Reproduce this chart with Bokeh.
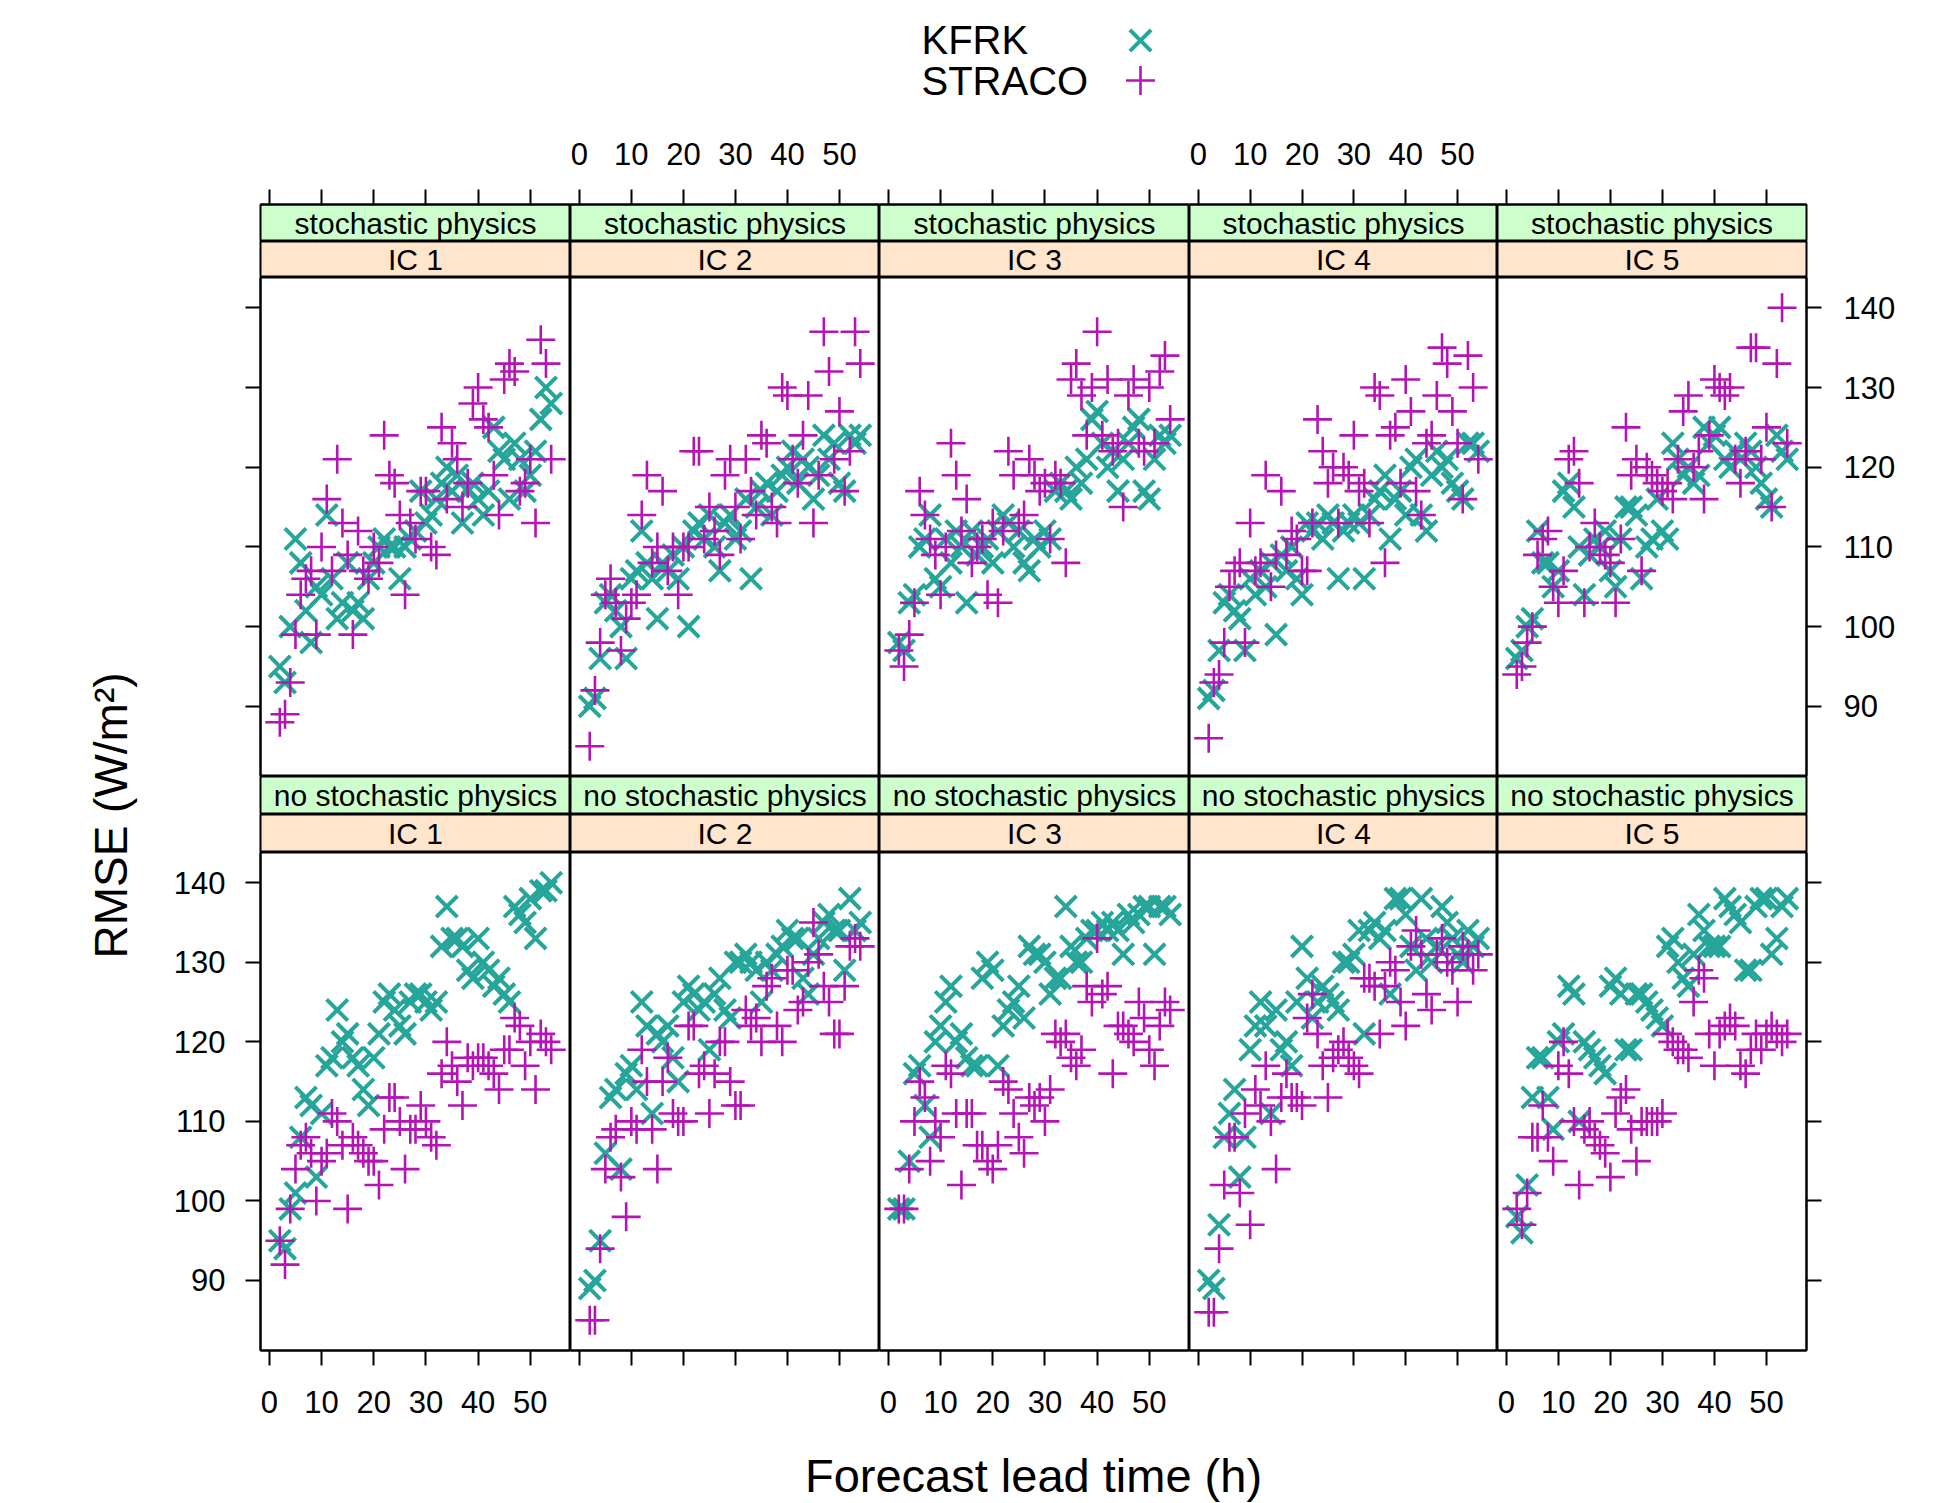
from bokeh.plotting import figure
from bokeh.layouts import column, row
from bokeh.models import LinearAxis, FixedTicker, Range1d
from bokeh.embed import file_html
from bokeh.resources import INLINE
from bokeh.core.properties import value
import math

# ---------------- data ----------------
HOURS = list(range(2, 55))
X_TICKS = [0, 10, 20, 30, 40, 50]
Y_TICKS = [90, 100, 110, 120, 130, 140]
IC_LABELS = ["IC 1", "IC 2", "IC 3", "IC 4", "IC 5"]
PHYS_LABELS = ["stochastic physics", "no stochastic physics"]
SERIES = ["KFRK", "STRACO"]

# stochastic physics
kfrk_sp_ic1 = [95, 93, 100, 111, 108, 102, 98, 105, 104, 114, 106, 101, 103, 108, 102, 103, 101, 106, 108, 110,
               111, 110, 110, 106, 110, 111, 112, 117, 113, 114, 116, 118, 120, 117, 119, 113, 117, 118, 116, 114,
               117, 125, 122, 121, 116, 123, 121, 117, 119, 122, 126, 130, 128]
straco_sp_ic1 = [88, 89, 93, 99, 104, 106, 107, 99, 110, 116, 107, 121, 113, 109, 99, 112, 107, 106, 110, 108,
                 124, 119, 118, 114, 104, 113, 111, 117, 117, 110, 109, 125, 116, 123, 121, 115, 118, 128, 130, 126,
                 125, 119, 114, 131, 133, 132, 117, 118, 121, 113, 136, 133, 121]
kfrk_sp_ic2 = [90, 91, 96, 103, 104, 102, 100, 96, 106, 107, 112, 108, 106, 101, 108, 107, 109, 106, 110, 100,
               112, 113, 111, 114, 110, 107, 113, 114, 111, 112, 116, 106, 115, 117, 118, 114, 117, 119, 120, 122,
               118, 121, 120, 116, 119, 124, 121, 123, 118, 117, 124, 123, 124]
straco_sp_ic2 = [85, 92, 98, 104, 106, 103, 97, 101, 103, 104, 114, 119, 108, 110, 117, 107, 110, 104, 110, 110,
                 122, 122, 111, 115, 112, 109, 119, 121, 115, 111, 121, 117, 114, 124, 123, 115, 113, 130, 129, 121,
                 118, 124, 129, 113, 119, 137, 132, 121, 127, 117, 122, 137, 133]
kfrk_sp_ic3 = [98, 97, 103, 104, 110, 111, 114, 106, 105, 111, 108, 112, 110, 103, 112, 109, 110, 111, 108, 112,
               114, 113, 110, 112, 108, 107, 111, 110, 112, 111, 117, 118, 117, 116, 120, 118, 121, 126, 127, 123,
               120, 122, 117, 121, 123, 125, 126, 117, 116, 121, 124, 123, 124]
straco_sp_ic3 = [97, 95, 99, 103, 117, 114, 111, 109, 104, 110, 123, 119, 112, 116, 108, 110, 111, 104, 113, 103,
                 112, 122, 119, 113, 114, 121, 119, 117, 118, 111, 119, 118, 108, 131, 133, 129, 124, 130, 137, 124,
                 131, 122, 123, 115, 129, 131, 123, 122, 130, 123, 132, 134, 126]
kfrk_sp_ic4 = [91, 92, 97, 103, 104, 102, 101, 97, 106, 104, 107, 105, 108, 99, 109, 107, 110, 106, 104, 113,
               112, 113, 111, 114, 113, 106, 112, 113, 114, 113, 106, 114, 116, 117, 119, 111, 116, 117, 114, 120,
               121, 114, 112, 119, 122, 120, 121, 118, 117, 116, 123, 123, 122]
straco_sp_ic4 = [86, 93, 94, 98, 105, 107, 108, 98, 113, 107, 108, 119, 105, 109, 117, 109, 112, 111, 107, 107,
                 113, 126, 122, 118, 120, 113, 120, 119, 124, 117, 118, 113, 130, 129, 108, 124, 125, 118, 131, 127,
                 117, 114, 123, 124, 129, 135, 133, 127, 123, 116, 134, 130, 121]
kfrk_sp_ic5 = [96, 97, 100, 101, 112, 108, 108, 105, 107, 117, 118, 115, 110, 104, 109, 111, 110, 112, 107, 105,
               111, 115, 115, 114, 106, 110, 111, 116, 112, 111, 123, 121, 119, 120, 118, 119, 125, 123, 124, 125,
               121, 120, 122, 121, 123, 122, 120, 118, 116, 115, 124, 122, 121]
straco_sp_ic5 = [94, 95, 98, 100, 109, 111, 112, 105, 103, 107, 121, 122, 118, 103, 110, 113, 110, 109, 108, 103,
                 111, 125, 119, 121, 107, 120, 119, 118, 117, 118, 116, 121, 127, 129, 120, 122, 116, 124, 131, 130,
                 129, 130, 121, 118, 122, 135, 135, 121, 125, 115, 133, 140, 123]

# no stochastic physics
kfrk_nsp_ic1 = [95, 94, 99, 101, 108, 113, 112, 103, 111, 117, 118, 124, 120, 121, 118, 117, 114, 112, 118, 121,
                125, 126, 124, 122, 121, 125, 126, 126, 125, 124, 125, 132, 137, 133, 133, 132, 129, 128, 133, 130,
                129, 127, 128, 126, 125, 137, 136, 135, 138, 133, 139, 139, 140]
straco_nsp_ic1 = [95, 92, 99, 104, 107, 108, 106, 100, 105, 106, 111, 110, 107, 99, 108, 107, 106, 105, 105, 102,
                  109, 113, 113, 110, 104, 109, 109, 112, 110, 108, 107, 116, 120, 117, 115, 112, 118, 117, 118, 118,
                  117, 116, 114, 119, 119, 123, 122, 117, 120, 114, 121, 120, 119]
kfrk_nsp_ic2 = [89, 90, 95, 106, 113, 114, 104, 116, 117, 114, 125, 122, 111, 121, 120, 122, 118, 115, 125, 127,
                126, 124, 125, 119, 126, 128, 124, 123, 130, 130, 131, 130, 129, 125, 130, 129, 131, 132, 134, 133,
                133, 128, 126, 131, 133, 135, 136, 134, 134, 129, 138, 134, 135]
straco_nsp_ic2 = [85, 85, 94, 104, 108, 109, 103, 98, 110, 109, 119, 115, 109, 104, 115, 118, 111, 110, 110, 122,
                  122, 116, 117, 111, 116, 120, 120, 115, 112, 112, 124, 122, 123, 120, 127, 128, 122, 120, 129, 129,
                  124, 125, 130, 135, 131, 127, 125, 121, 121, 127, 132, 133, 132]
kfrk_nsp_ic3 = [99, 99, 105, 116, 117, 112, 108, 120, 122, 125, 127, 120, 121, 118, 117, 117, 128, 130, 129, 117,
                122, 124, 125, 127, 123, 132, 131, 131, 130, 126, 128, 128, 137, 132, 130, 130, 133, 134, 134, 135,
                134, 135, 134, 131, 136, 135, 136, 137, 137, 131, 137, 137, 136]
straco_nsp_ic3 = [99, 99, 104, 110, 115, 113, 105, 110, 108, 117, 116, 111, 102, 111, 111, 107, 107, 105, 104, 107,
                  115, 114, 111, 108, 106, 113, 112, 113, 110, 114, 121, 120, 121, 118, 117, 119, 127, 125, 133, 126,
                  127, 116, 122, 122, 121, 120, 125, 123, 119, 117, 122, 125, 124]
kfrk_nsp_ic4 = [90, 89, 97, 108, 111, 114, 103, 108, 119, 122, 125, 122, 111, 124, 119, 120, 117, 125, 132, 128,
                123, 125, 127, 126, 125, 124, 130, 130, 131, 134, 121, 134, 135, 133, 134, 126, 138, 138, 136, 132,
                129, 138, 133, 130, 132, 137, 135, 133, 131, 130, 134, 132, 133]
straco_nsp_ic4 = [86, 86, 94, 102, 108, 108, 101, 111, 97, 114, 112, 117, 110, 104, 113, 116, 113, 113, 112, 123,
                  126, 121, 117, 113, 118, 119, 120, 118, 117, 116, 128, 128, 127, 121, 127, 130, 129, 125, 122, 132,
                  134, 131, 126, 124, 131, 133, 130, 129, 125, 132, 131, 129, 131]
kfrk_nsp_ic5 = [98, 96, 102, 113, 118, 118, 113, 109, 120, 121, 127, 126, 110, 120, 119, 118, 117, 116, 127, 128,
                126, 119, 119, 126, 126, 125, 124, 123, 122, 132, 133, 130, 128, 127, 131, 136, 134, 132, 132, 132,
                138, 137, 136, 135, 129, 129, 137, 138, 138, 131, 133, 137, 138]
straco_nsp_ic5 = [99, 97, 101, 108, 108, 112, 108, 105, 117, 120, 116, 110, 102, 109, 110, 108, 107, 106, 103, 111,
                  113, 114, 109, 105, 110, 110, 110, 110, 111, 121, 120, 119, 119, 118, 125, 129, 128, 121, 117, 121,
                  122, 123, 122, 117, 116, 119, 121, 119, 121, 122, 121, 120, 121]

PANELS = {
    (0, 0): (kfrk_sp_ic1, straco_sp_ic1), (0, 1): (kfrk_sp_ic2, straco_sp_ic2),
    (0, 2): (kfrk_sp_ic3, straco_sp_ic3), (0, 3): (kfrk_sp_ic4, straco_sp_ic4),
    (0, 4): (kfrk_sp_ic5, straco_sp_ic5),
    (1, 0): (kfrk_nsp_ic1, straco_nsp_ic1), (1, 1): (kfrk_nsp_ic2, straco_nsp_ic2),
    (1, 2): (kfrk_nsp_ic3, straco_nsp_ic3), (1, 3): (kfrk_nsp_ic4, straco_nsp_ic4),
    (1, 4): (kfrk_nsp_ic5, straco_nsp_ic5),
}

# ---------------- style ----------------
FONT = "Liberation Sans"
TEAL = "#26A69A"
MAGENTA = "#B414B4"
GREEN_STRIP = "#CCFFCC"
PEACH_STRIP = "#FFE5CC"
XR = (-1.7, 57.7)
YR = (81.2, 143.8)
TICK_FS = "31px"
X_SIZE, X_LW = 30, 4
P_SIZE, P_LW = 29, 2.6

COL_W = [310, 309, 310, 308, 309]
LEFT_B = 110
RIGHT_B = 153
TITLE_W = 150
TOP_B = 84
STRIP_H = [(37, 36), (38, 38)]
PANEL_H = [499, 498]
BOTTOM_B = 90


def base_fig(fw, fh, xr, yr, bl=0, br=0, bt=0, bb=0, outline=True):
    p = figure(frame_width=fw, frame_height=fh, x_range=Range1d(*xr), y_range=Range1d(*yr),
               output_backend="svg", toolbar_location=None,
               x_axis_location=None, y_axis_location=None,
               min_border=0, min_border_left=bl, min_border_right=br,
               min_border_top=bt, min_border_bottom=bb)
    p.grid.visible = False
    p.background_fill_color = "white"
    p.border_fill_color = "white"
    if outline:
        p.outline_line_color = "black"
        p.outline_line_width = 2
    else:
        p.outline_line_color = None
    return p


def add_axis(p, loc, ticks, show_labels, standoff=20):
    ax = LinearAxis(ticker=FixedTicker(ticks=ticks))
    ax.major_tick_out = 15
    ax.major_tick_in = 0
    ax.minor_tick_line_color = None
    ax.axis_line_color = "black"
    ax.axis_line_width = 2
    ax.major_tick_line_color = "black"
    ax.major_tick_line_width = 2
    ax.major_label_text_font = FONT
    ax.major_label_text_font_size = TICK_FS
    ax.major_label_text_color = "black" if show_labels else None
    ax.major_label_standoff = standoff
    p.add_layout(ax, loc)


def strip(label, color, fw, fh, bl, br, bt=0, top_axis=None):
    s = base_fig(fw, fh, XR, (0, 1), bl=bl, br=br, bt=bt)
    s.background_fill_color = color
    s.text(x=[(XR[0] + XR[1]) / 2], y=[0.5], text=[label], text_align="center",
           text_baseline="middle", text_font=value(FONT), text_font_size=value("30px"),
           text_color="black")
    if top_axis is not None:
        add_axis(s, "above", X_TICKS, top_axis, standoff=25)
    return s


columns = []
for c in range(5):
    bl = LEFT_B if c == 0 else 0
    br = RIGHT_B if c == 4 else 0
    figs = []
    for r in range(2):
        gh, ph = STRIP_H[r]
        if r == 0:
            figs.append(strip(PHYS_LABELS[r], GREEN_STRIP, COL_W[c], gh, bl, br, bt=TOP_B,
                              top_axis=(c in (1, 3))))
        else:
            figs.append(strip(PHYS_LABELS[r], GREEN_STRIP, COL_W[c], gh, bl, br))
        figs.append(strip(IC_LABELS[c], PEACH_STRIP, COL_W[c], ph, bl, br))
        bb = BOTTOM_B if r == 1 else 0
        p = base_fig(COL_W[c], PANEL_H[r], XR, YR, bl=bl, br=br, bb=bb)
        kfrk, straco = PANELS[(r, c)]
        p.scatter(HOURS, kfrk, marker="x", size=X_SIZE, line_color=TEAL, line_width=X_LW)
        p.scatter(HOURS, straco, marker="cross", size=P_SIZE, line_color=MAGENTA, line_width=P_LW)
        if c == 0:
            add_axis(p, "left", Y_TICKS, r == 1, standoff=20)
        if c == 4:
            add_axis(p, "right", Y_TICKS, r == 0, standoff=22)
        if r == 1:
            add_axis(p, "below", X_TICKS, c in (0, 2, 4), standoff=25)
        figs.append(p)
    columns.append(column(*figs, spacing=0))

grid_h = TOP_B + sum(STRIP_H[0]) + PANEL_H[0] + sum(STRIP_H[1]) + PANEL_H[1] + BOTTOM_B

# y-axis title
yt = base_fig(TITLE_W, grid_h, (0, TITLE_W), (0, grid_h), outline=False)
yt.text(x=[110], y=[grid_h - 695], text=["RMSE (W/m²)"], angle=math.pi / 2,
        text_align="center", text_baseline="middle", text_font=value(FONT),
        text_font_size=value("46px"), text_color="black")

# legend
LEG_H = 120
leg = base_fig(1959, LEG_H, (0, 1959), (0, LEG_H), outline=False)
leg.text(x=[921, 921], y=[LEG_H - 39, LEG_H - 80], text=SERIES, text_align="left",
         text_baseline="middle", text_font=value(FONT), text_font_size=value("40px"),
         text_color="black")
leg.scatter([1140], [LEG_H - 40], marker="x", size=X_SIZE, line_color=TEAL, line_width=X_LW)
leg.scatter([1140], [LEG_H - 80], marker="cross", size=P_SIZE, line_color=MAGENTA, line_width=P_LW)

# x-axis title
XL_H = 1503 - LEG_H - grid_h
xl = base_fig(1959, XL_H, (0, 1959), (0, XL_H), outline=False)
xl.text(x=[1033], y=[XL_H - 35], text=["Forecast lead time (h)"], text_align="center",
        text_baseline="middle", text_font=value(FONT), text_font_size=value("47px"),
        text_color="black")

layout = column(leg, row(yt, *columns, spacing=0), xl, spacing=0)

open("out.html", "w").write(file_html(layout, INLINE))
